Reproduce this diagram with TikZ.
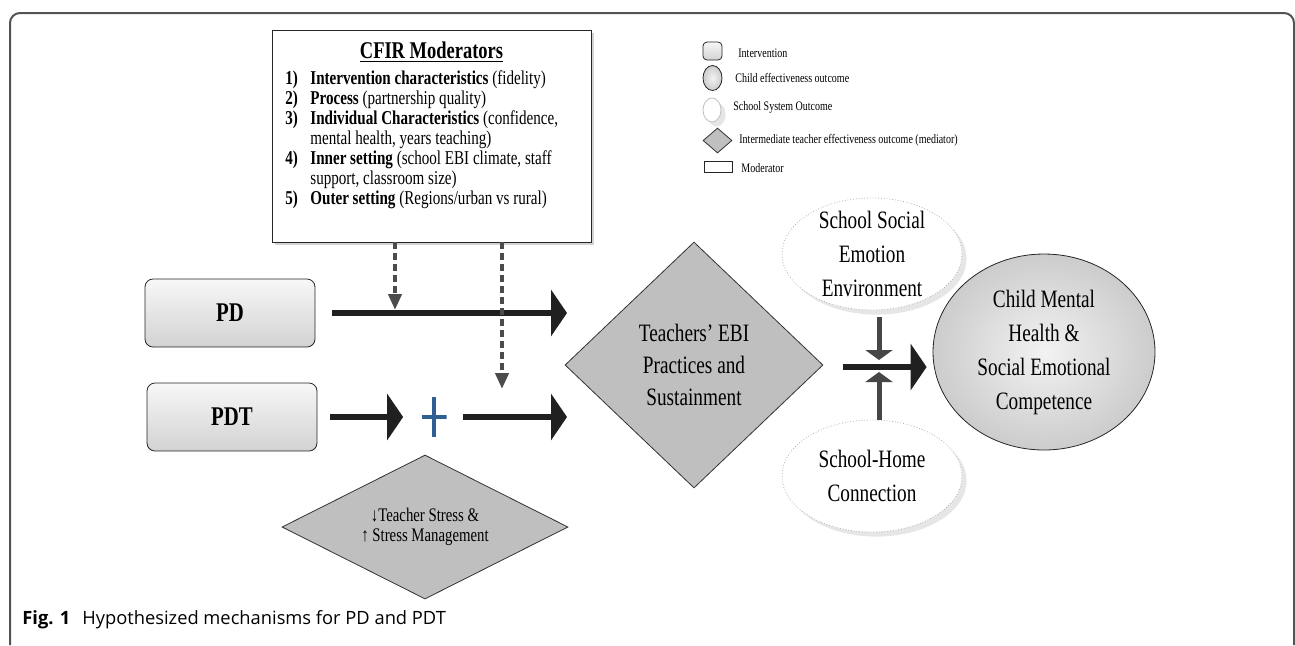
\documentclass[tikz,border=0pt]{standalone}
\usepackage{fontspec}
\setmainfont[FakeStretch=0.77]{Liberation Serif}
\newfontfamily\capfont{Open Sans}
\usetikzlibrary{positioning}
\usetikzlibrary{arrows.meta}
\usetikzlibrary{shapes.geometric}
\usetikzlibrary{shadows}
\definecolor{plusblue}{HTML}{2F5F94}
\tikzset{tips=proper}
\tikzset{%
    intervention/.style={rectangle, draw=gray!30!black, rounded corners=4pt, top color=gray!6, bottom color=gray!35, minimum width=85pt, minimum height=34pt, font=\fontsize{13.5}{16}\selectfont\bfseries},
    mediator/.style={diamond, draw=gray!40!black, fill=gray!50, inner sep=0pt, align=center},
    system/.style={ellipse, draw=gray!60, densely dotted, fill=white, minimum width=90pt, minimum height=56pt, drop shadow={opacity=0.2}},
    outcome/.style={ellipse, draw=gray!30!black, inner color=gray!10, outer color=gray!40, inner sep=1pt, align=center},
    moderator/.style={rectangle, draw=gray!30!black, fill=white},
    flow/.style={draw=gray!25!black, line width=3pt, -{Triangle[length=8pt, width=23pt]}},
    modflow/.style={draw=gray!60!black, line width=2pt, dash pattern=on 3.5pt off 2pt, shorten >=1.5pt, -{Triangle[length=8pt, width=6.5pt]}},
    side/.style={draw=gray!55!black, line width=2.5pt, -{Triangle[length=5pt, width=13.5pt]}},
    legend/.style={anchor=west, inner sep=0pt, font=\fontsize{6.5}{8}\selectfont},
    bigtext/.style={font=\fontsize{12.5}{17}\selectfont}
}
\begin{document}
\begin{tikzpicture}[x=0.5pt, y=-0.5pt]
\useasboundingbox (0,0) rectangle (1295,645);
% frame and caption
\draw[gray!65!black, line width=1pt, rounded corners=5pt] (10,645) -- (10,13) -- (1294,13) -- (1294,645);
\node[anchor=base west, inner sep=0pt, font=\capfont\fontsize{9.15}{11}\selectfont] (caption) at (22,624) {\textbf{Fig. 1}\hspace{6pt}Hypothesized mechanisms for PD and PDT};

% moderators
\node[moderator, drop shadow={opacity=0.35, shadow xshift=1.5pt, shadow yshift=-1.5pt}, minimum width=159.5pt, minimum height=106pt] (cfir) at (431.5,136) {};
\node[anchor=base, inner sep=0pt, font=\fontsize{12}{14}\selectfont\bfseries] (cfirtitle) at (431.5,58) {\underline{CFIR Moderators}};
\node[anchor=north west, inner sep=0pt, font=\fontsize{9.8}{10}\selectfont] (cfirlist) at (285,70) {%
    \begin{tabular}{@{}p{12.5pt}@{}l@{}}
    \textbf{1)} & \textbf{Intervention characteristics} (fidelity)\\
    \textbf{2)} & \textbf{Process} (partnership quality)\\
    \textbf{3)} & \textbf{Individual Characteristics} (confidence,\\
                & mental health, years teaching)\\
    \textbf{4)} & \textbf{Inner setting} (school EBI climate, staff\\
                & support, classroom size)\\
    \textbf{5)} & \textbf{Outer setting} (Regions/urban vs rural)
    \end{tabular}};

% legend
\node[intervention, minimum width=9.5pt, minimum height=9pt, rounded corners=2pt, inner sep=0pt] (legint) at (712.5,51) {};
\node[legend] (legintlabel) at (738,53) {Intervention};
\node[outcome, minimum width=9.5pt, minimum height=12.5pt, inner sep=0pt] (legout) at (712.5,78) {};
\node[legend] (legoutlabel) at (735,78) {Child effectiveness outcome};
\node[system, solid, draw=gray!50, drop shadow={opacity=0}, minimum width=9pt, minimum height=12pt, inner sep=0pt] (legsys) at (712,110) {};
\node[legend] (legsyslabel) at (733,107) {School System Outcome};
\node[mediator, minimum width=14.5pt, minimum height=12.5pt] (legmed) at (717.5,140.5) {};
\node[legend] (legmedlabel) at (739,140) {Intermediate teacher effectiveness outcome (mediator)};
\node[moderator, minimum width=14pt, minimum height=5.5pt, inner sep=0pt] (legmod) at (718,167) {};
\node[legend] (legmodlabel) at (741,168) {Moderator};

% interventions and mediators
\node[intervention] (pd) at (230,313) {PD};
\node[intervention] (pdt) at (232,417) {PDT};
\node[minimum width=12.5pt, minimum height=20pt, inner sep=0pt,
      path picture={\draw[plusblue, line width=2pt]
        (path picture bounding box.north) -- (path picture bounding box.south)
        (path picture bounding box.west) -- (path picture bounding box.east);}] (plus) at (434,417) {};
\node[mediator, minimum width=129pt, minimum height=123pt, font=\fontsize{12.5}{16}\selectfont] (teach) at (694,365) {Teachers’ EBI\\Practices and\\Sustainment};
\node[mediator, minimum width=143pt, minimum height=72pt, aspect=2, font=\fontsize{9.6}{10}\selectfont] (stress) at (425,527) {↓Teacher Stress \&\\↑ Stress Management};

% outcomes
\node[system, label={[bigtext, align=center]center:{School Social\\Emotion\\Environment}}] (soc) at (872,254) {};
\node[system, label={[bigtext, align=center]center:{School-Home\\Connection}}] (home) at (872,476) {};
\node[outcome, bigtext, minimum width=111pt, minimum height=98pt] (child) at (1044,352) {Child Mental\\Health \&\\Social Emotional\\Competence};

% connectors
\coordinate (pdend) at (567,313);
\coordinate (pdtend) at (567,417);
\coordinate (mod1) at (395,313);
\coordinate (mod2) at (502,392);
\coordinate (jn) at (879,367);
\draw[flow, shorten <=8.5pt] (pd.east) -- (pdend);
\draw[flow, shorten <=6.5pt, shorten >=9pt] (pdt.east) -- (plus.west);
\draw[flow, shorten <=8pt] (plus.east) -- (pdtend);
\draw[modflow] (cfir.south -| mod1) -- (mod1);
\draw[modflow] (cfir.south -| mod2) -- (mod2);
\draw[flow, shorten <=10pt, shorten >=3pt] (teach.east |- jn) -- (child.west |- jn);
\draw[side, shorten <=3.5pt, shorten >=3.5pt] (soc.south -| jn) -- (jn);
\draw[side, shorten >=2.5pt] (home.north -| jn) -- (jn);
\end{tikzpicture}
\end{document}
